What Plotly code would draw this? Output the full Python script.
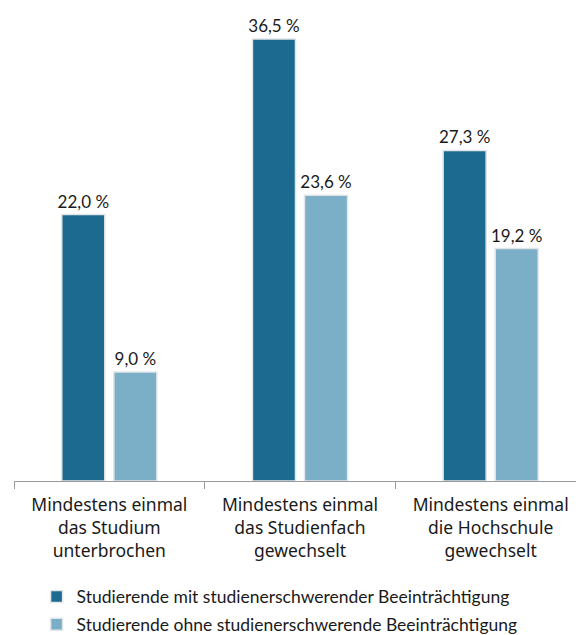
import plotly.graph_objects as go

categories = ["Mindestens einmal<br>das Studium<br>unterbrochen",
              "Mindestens einmal<br>das Studienfach<br>gewechselt",
              "Mindestens einmal<br>die Hochschule<br>gewechselt"]
series_names = ["Studierende mit studienerschwerender Beeinträchtigung",
                "Studierende ohne studienerschwerende Beeinträchtigung"]
with_values = [22.0, 36.5, 27.3]
without_values = [9.0, 23.6, 19.2]

colors = ["#1c6a8f", "#7bafc8"]

def fmt(v):
    return f"{v:.1f}".replace(".", ",") + " %"

fig = go.Figure()
for i, (name, vals, col) in enumerate(zip(series_names, [with_values, without_values], colors)):
    fig.add_trace(go.Bar(
        x=categories, y=vals, name=name, legendgroup=f"g{i}",
        marker=dict(color=col, line=dict(color="#e3e6e8", width=1.5)),
        text=[fmt(v) for v in vals], textposition="outside",
        constraintext="none",
        textfont=dict(size=17, color="#1a1a1a", family="Lato"),
        cliponaxis=False,
    ))

fig.update_layout(
    width=584, height=635,
    margin=dict(l=6, r=6, t=1, b=162, autoexpand=False),
    paper_bgcolor="white", plot_bgcolor="white",
    barmode="group", bargap=0.454, bargroupgap=0.173,
    font=dict(family="Lato", size=17, color="#1a1a1a"),
    showlegend=True,
    legend=dict(orientation="v", x=0.0395, xanchor="left", y=-0.207, yanchor="top",
                font=dict(size=17.5, family="Lato", color="#1a1a1a"),
                traceorder="grouped", tracegroupgap=2),
    xaxis=dict(showline=True, linecolor="#9a9a9a", linewidth=1,
               ticks="outside", tickson="boundaries", ticklen=7, tickcolor="#9a9a9a",
               tickfont=dict(size=17.5, family="Noto Sans", color="#1a1a1a"),
               ticklabelstandoff=8,
               showgrid=False, fixedrange=True),
    yaxis=dict(range=[0, 38.98], visible=False, showgrid=False, zeroline=False),
)

fig.write_html("out.html")
